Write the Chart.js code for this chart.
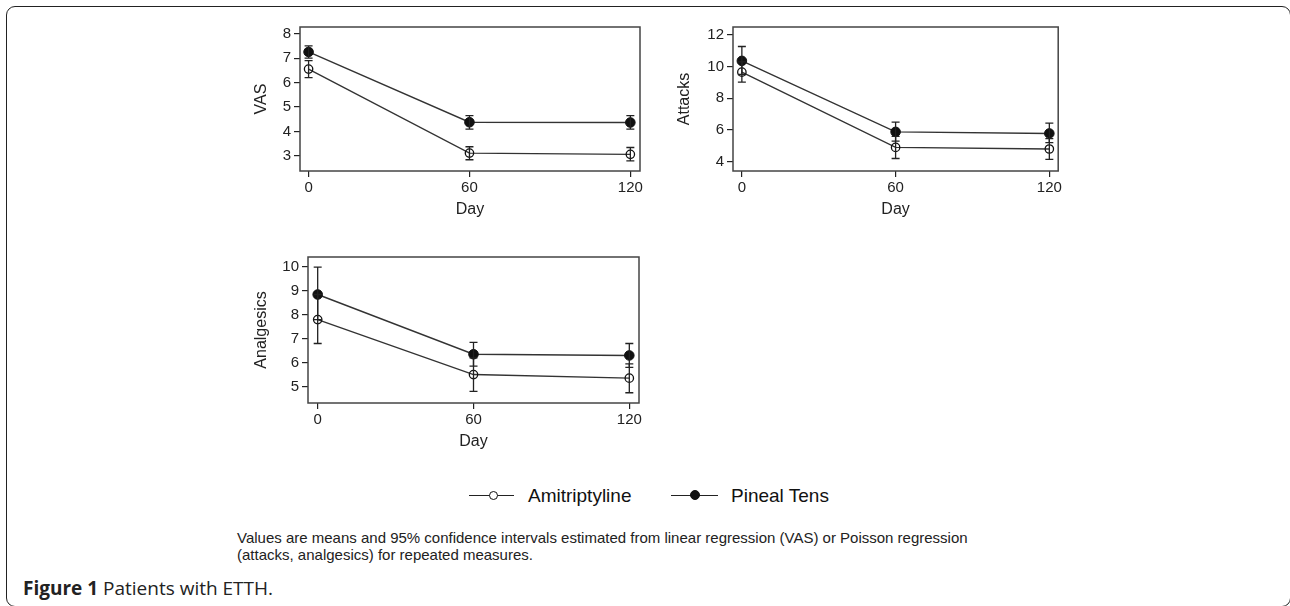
<!DOCTYPE html>
<html>
<head>
<meta charset="utf-8">
<script src="https://cdn.jsdelivr.net/npm/chart.js@4.4.1/dist/chart.umd.min.js"></script>
<style>
  body { margin:0; background:#fff; }
  #page { position:relative; width:1290px; height:606px; overflow:hidden; background:#fff; }
  #frame { position:absolute; left:6px; top:6px; width:1285px; height:601px; box-sizing:border-box;
           border:1.5px solid #222; border-radius:9px; }
  canvas { position:absolute; }
  .leg { position:absolute; top:484px; height:24px; font:19px "Liberation Sans", Arial, sans-serif; color:#111; line-height:24px; }
  .sym { position:absolute; top:11px; height:0; border-top:1.4px solid #222; }
  .dot { position:absolute; top:7px; width:9px; height:9px; border-radius:50%; box-sizing:border-box; border:1.4px solid #111; }
  #note { position:absolute; left:237px; top:529px; font:15px "Liberation Sans", Arial, sans-serif; line-height:17px; color:#222; }
  #fig { position:absolute; left:23px; top:576px; font:19px "Open Sans", sans-serif; line-height:24px; color:#222; }
</style>
</head>
<body>
<div id="page">
  <div id="frame"></div>
  <canvas id="vas" width="410" height="220" style="left:240px;top:10px"></canvas>
  <canvas id="att" width="414" height="220" style="left:650px;top:10px"></canvas>
  <canvas id="ana" width="410" height="230" style="left:240px;top:240px"></canvas>

  <div class="leg" style="left:469px;width:200px">
    <div class="sym" style="left:0;width:45px"></div>
    <div class="dot" style="left:20px;background:#fff"></div>
    <span style="position:absolute;left:59px">Amitriptyline</span>
  </div>
  <div class="leg" style="left:671px;width:200px">
    <div class="sym" style="left:0;width:47px"></div>
    <div class="dot" style="left:19px;background:#111;width:10px;height:10px;top:6px"></div>
    <span style="position:absolute;left:60px">Pineal Tens</span>
  </div>

  <div id="note">Values are means and 95% confidence intervals estimated from linear regression (VAS) or Poisson regression<br>(attacks, analgesics) for repeated measures.</div>
  <div id="fig"><b>Figure 1</b> Patients with ETTH.</div>
</div>

<script>
// days on x axis
const days = [0, 60, 120];

// VAS
const vasTicks = [3, 4, 5, 6, 7, 8];
const vasAmit = [6.55, 3.12, 3.07];
const vasAmitLo = [6.2, 2.85, 2.8];
const vasAmitHi = [6.9, 3.38, 3.35];
const vasPineal = [7.25, 4.38, 4.37];
const vasPinealLo = [7.0, 4.1, 4.1];
const vasPinealHi = [7.5, 4.65, 4.65];

// Attacks
const attTicks = [4, 6, 8, 10, 12];
const attAmit = [9.65, 4.9, 4.8];
const attAmitLo = [9.02, 4.2, 4.15];
const attAmitHi = [10.3, 5.6, 5.45];
const attPineal = [10.36, 5.88, 5.78];
const attPinealLo = [9.5, 5.3, 5.2];
const attPinealHi = [11.27, 6.5, 6.43];

// Analgesics
const anaTicks = [5, 6, 7, 8, 9, 10];
const anaAmit = [7.8, 5.5, 5.35];
const anaAmitLo = [6.8, 4.8, 4.74];
const anaAmitHi = [8.85, 6.2, 5.95];
const anaPineal = [8.85, 6.35, 6.3];
const anaPinealLo = [7.8, 5.85, 5.8];
const anaPinealHi = [10.0, 6.85, 6.8];

const FONT = '"Liberation Sans", Arial, sans-serif';
const INK = '#222';

// error bars + plot box
const boxAndBars = {
  id: 'boxAndBars',
  afterDatasetsDraw(chart, args, opts){
    const {ctx, chartArea:a, scales:{x, y}} = chart;
    ctx.save();
    ctx.strokeStyle = INK;
    ctx.lineWidth = 1.3;
    opts.bars.forEach(b => {
      b.lo.forEach((lo, i) => {
        const px = x.getPixelForValue(days[i]);
        const y1 = y.getPixelForValue(lo), y2 = y.getPixelForValue(b.hi[i]);
        ctx.beginPath();
        ctx.moveTo(px, y1); ctx.lineTo(px, y2);
        ctx.moveTo(px-4, y1); ctx.lineTo(px+4, y1);
        ctx.moveTo(px-4, y2); ctx.lineTo(px+4, y2);
        ctx.stroke();
      });
    });
    ctx.strokeStyle = '#444';
    ctx.lineWidth = 1.5;
    ctx.strokeRect(a.left, a.top, a.width, a.height);
    ctx.restore();
  }
};

function panel(id, p){
  const pts = vals => days.map((d,i) => ({x:d, y:vals[i]}));
  new Chart(document.getElementById(id), {
    type: 'line',
    data: {datasets: [
      {data: pts(p.amit), borderColor:'#333', borderWidth:1.4, pointRadius:4.2,
       pointBackgroundColor:'rgba(255,255,255,0)', pointBorderColor:'#111', pointBorderWidth:1.3},
      {data: pts(p.pineal), borderColor:'#333', borderWidth:1.4, pointRadius:4.8,
       pointBackgroundColor:'#111', pointBorderColor:'#111', pointBorderWidth:1}
    ]},
    options: {
      responsive:false, animation:false, devicePixelRatio:1,
      layout: {padding: {left:0, top:17, right:p.padRight, bottom:0}},
      plugins: {
        legend:{display:false}, tooltip:{enabled:false},
        boxAndBars: {bars: [{lo:p.amitLo, hi:p.amitHi}, {lo:p.pinealLo, hi:p.pinealHi}]}
      },
      scales: {
        x: {
          type:'linear', min:p.xmin, max:p.xmax,
          afterBuildTicks: s => { s.ticks = days.map(v => ({value:v})); },
          afterFit: s => { s.height = p.xHeight; s.paddingLeft = 0; s.paddingRight = 0; },
          border:{display:false},
          grid:{drawOnChartArea:false, tickLength:6, color:INK, lineWidth:1.2},
          ticks:{autoSkip:false, maxRotation:0, padding:2, color:INK, font:{family:FONT, size:15}},
          title:{display:true, text:'Day', color:INK, font:{family:FONT, size:16}, padding:{top:0, bottom:p.dayPad}}
        },
        y: {
          min:p.ymin, max:p.ymax,
          afterBuildTicks: s => { s.ticks = p.ticks.map(v => ({value:v})); },
          afterFit: s => { s.width = p.yWidth; s.paddingTop = 0; s.paddingBottom = 0; },
          border:{display:false},
          grid:{drawOnChartArea:false, tickLength:6, color:INK, lineWidth:1.2},
          ticks:{autoSkip:false, padding:3, color:INK, font:{family:FONT, size:15}},
          title:{display:true, text:p.title, color:INK, font:{family:FONT, size:16}, padding:{top:p.titlePad, bottom:0}}
        }
      }
    },
    plugins: [boxAndBars]
  });
}

panel('vas', {title:'VAS', ticks:vasTicks, ymin:2.39, ymax:8.27, xmin:-3.2, xmax:123.6,
  amit:vasAmit, amitLo:vasAmitLo, amitHi:vasAmitHi, pineal:vasPineal, pinealLo:vasPinealLo, pinealHi:vasPinealHi,
  yWidth:60, xHeight:59, padRight:10, titlePad:12.4, dayPad:10.4});

panel('att', {title:'Attacks', ticks:attTicks, ymin:3.41, ymax:12.5, xmin:-3.46, xmax:123.46,
  amit:attAmit, amitLo:attAmitLo, amitHi:attAmitHi, pineal:attPineal, pinealLo:attPinealLo, pinealHi:attPinealHi,
  yWidth:83, xHeight:59, padRight:1, titlePad:25.4, dayPad:10.4});

panel('ana', {title:'Analgesics', ticks:anaTicks, ymin:4.31, ymax:10.42, xmin:-3.73, xmax:123.73,
  amit:anaAmit, amitLo:anaAmitLo, amitHi:anaAmitHi, pineal:anaPineal, pinealLo:anaPinealLo, pinealHi:anaPinealHi,
  yWidth:68, xHeight:67, padRight:11, titlePad:12.4, dayPad:18.4});
</script>
</body>
</html>
